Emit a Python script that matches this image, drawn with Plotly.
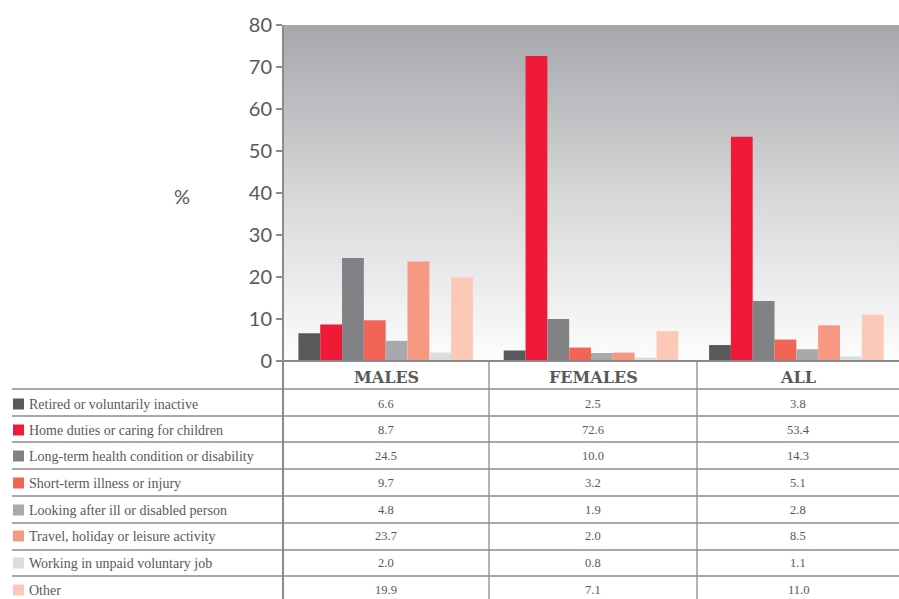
import base64
import plotly.graph_objects as go

categories = ["MALES", "FEMALES", "ALL"]
series_names = [
    "Retired or voluntarily inactive",
    "Home duties or caring for children",
    "Long-term health condition or disability",
    "Short-term illness or injury",
    "Looking after ill or disabled person",
    "Travel, holiday or leisure activity",
    "Working in unpaid voluntary job",
    "Other",
]
retired = [6.6, 2.5, 3.8]
home_duties = [8.7, 72.6, 53.4]
long_term = [24.5, 10.0, 14.3]
short_term = [9.7, 3.2, 5.1]
looking_after = [4.8, 1.9, 2.8]
travel = [23.7, 2.0, 8.5]
unpaid = [2.0, 0.8, 1.1]
other = [19.9, 7.1, 11.0]
series_values = [retired, home_duties, long_term, short_term, looking_after, travel, unpaid, other]
colors = ["#58595b", "#ef1a37", "#808285", "#f26556", "#a7a9ac", "#f79883", "#dcdddd", "#fcc8b8"]
y_ticks = [0, 10, 20, 30, 40, 50, 60, 70, 80]

W, H = 899, 599
L, R, T, B = 283, 899, 25, 361  # plot area in window pixels

def px(x):
    return (x - L) / (R - L)

def py(y):
    return (B - y) / (B - T)

fig = go.Figure()
for name, vals, c in zip(series_names, series_values, colors):
    fig.add_trace(go.Bar(x=categories, y=vals, name=name, marker=dict(color=c, line=dict(width=0)),
                         showlegend=False, hoverinfo="y+name"))

svg = ('<svg xmlns="http://www.w3.org/2000/svg" width="100" height="100" preserveAspectRatio="none">'
       '<defs><linearGradient id="g" x1="0" y1="0" x2="0" y2="1">'
       '<stop offset="0" stop-color="#a6a7aa"/><stop offset="0.5" stop-color="#d6d7d9"/>'
       '<stop offset="1" stop-color="#fdfdfd"/></linearGradient></defs>'
       '<rect width="100" height="100" fill="url(#g)"/></svg>')
img_src = "data:image/svg+xml;base64," + base64.b64encode(svg.encode()).decode()

shapes = []
line_col = "#8a8b8d"
row_lines = [389, 416, 442, 469, 496, 523, 550, 576]
for yy in row_lines:
    shapes.append(dict(type="line", xref="paper", yref="paper", x0=px(12), x1=1, y0=py(yy), y1=py(yy),
                       line=dict(color=line_col, width=1.3)))
for xx in [489, 697]:
    shapes.append(dict(type="line", xref="paper", yref="paper", x0=px(xx), x1=px(xx), y0=0, y1=py(600),
                       line=dict(color=line_col, width=1.3)))
shapes.append(dict(type="line", xref="paper", yref="paper", x0=0, x1=0, y0=1, y1=py(600),
                   line=dict(color=line_col, width=2)))
shapes.append(dict(type="line", xref="paper", yref="paper", x0=0, x1=1, y0=0, y1=0,
                   line=dict(color=line_col, width=2)))

annotations = []
col_centers = [386, 593, 798]
txt_col = "#58595b"
for cat, cx in zip(categories, col_centers):
    annotations.append(dict(x=px(cx), y=py(377), xref="paper", yref="paper", text="<b>%s</b>" % cat,
                            showarrow=False, xanchor="center", yanchor="middle",
                            font=dict(family="DejaVu Serif", size=16, color=txt_col, weight="bold")))
row_centers = [404, 430, 456, 483, 510, 536, 563, 590]
for name, vals, c, ry in zip(series_names, series_values, colors, row_centers):
    shapes.append(dict(type="rect", xref="paper", yref="paper", x0=px(13), x1=px(24),
                       y0=py(ry + 5.5), y1=py(ry - 5.5), fillcolor=c, line=dict(width=0)))
    annotations.append(dict(x=px(27), y=py(ry), xref="paper", yref="paper", text=name,
                            xanchor="left", yanchor="middle", showarrow=False,
                            font=dict(family="Liberation Serif", size=14, color=txt_col)))
    for v, cx in zip(vals, col_centers):
        annotations.append(dict(x=px(cx), y=py(ry), xref="paper", yref="paper", text="%.1f" % v,
                                xanchor="center", yanchor="middle", showarrow=False,
                                font=dict(family="Liberation Serif", size=12.5, color=txt_col)))

annotations.append(dict(x=px(182), y=py(196), xref="paper", yref="paper", text="%", showarrow=False,
                        xanchor="center", yanchor="middle",
                        font=dict(family="Lato", size=20, color=txt_col)))

fig.update_layout(
    width=W, height=H,
    margin=dict(l=L, r=W - R, t=T, b=H - B, pad=0, autoexpand=False),
    paper_bgcolor="white", plot_bgcolor="rgba(0,0,0,0)",
    barmode="group", bargap=0.15, bargroupgap=0,
    shapes=shapes, annotations=annotations,
    images=[dict(source=img_src, xref="paper", yref="paper", x=0, y=1, sizex=1, sizey=1,
                 sizing="stretch", xanchor="left", yanchor="top", layer="below")],
    xaxis=dict(showticklabels=False, showgrid=False, zeroline=False, showline=False, ticks=""),
    yaxis=dict(range=[0, 80], tickvals=y_ticks, showgrid=False, zeroline=False, showline=False,
               ticks="outside", ticklen=6, tickwidth=1.5, tickcolor=line_col,
               tickfont=dict(family="Lato", size=20, color=txt_col)),
)
fig.write_html("out.html", config={"displayModeBar": False},
               post_script="document.body.style.margin='0';document.body.style.overflow='hidden';")
